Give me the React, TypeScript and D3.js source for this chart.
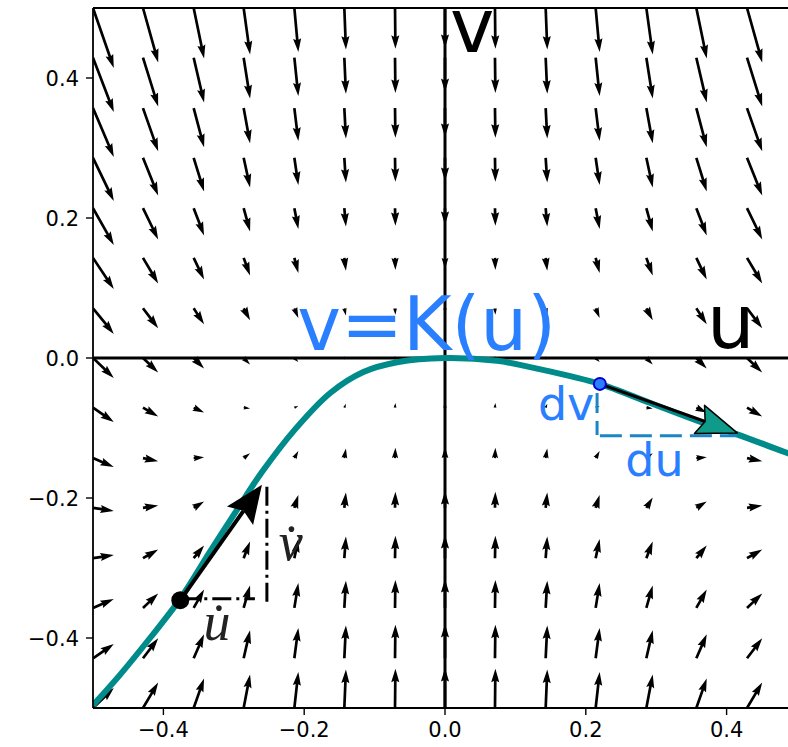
import React from 'react';
import * as d3 from 'd3';

// grid of the vector field (u across, v down from the top)
const gridU = [-0.5, -0.429, -0.357, -0.286, -0.214, -0.143, -0.071, 0, 0.071, 0.143, 0.214, 0.286, 0.357, 0.429, 0.5];
const gridV = [0.5, 0.429, 0.357, 0.286, 0.214, 0.143, 0.071, 0, -0.071, -0.143, -0.214, -0.286, -0.357, -0.429, -0.5];

// horizontal component, one per column
const fieldU = [0.26, 0.19, 0.13, 0.08, 0.05, 0.02, 0.005, 0, 0.005, 0.02, 0.05, 0.08, 0.13, 0.19, 0.26];

// vertical component, one row per gridV value
const fieldV = [
  [-0.75, -0.68, -0.63, -0.58, -0.55, -0.52, -0.51, -0.5, -0.51, -0.52, -0.55, -0.58, -0.63, -0.68, -0.75],
  [-0.68, -0.61, -0.56, -0.51, -0.48, -0.45, -0.44, -0.43, -0.44, -0.45, -0.48, -0.51, -0.56, -0.61, -0.68],
  [-0.61, -0.54, -0.49, -0.44, -0.41, -0.38, -0.37, -0.36, -0.37, -0.38, -0.41, -0.44, -0.49, -0.54, -0.61],
  [-0.54, -0.47, -0.42, -0.37, -0.34, -0.31, -0.3, -0.29, -0.3, -0.31, -0.34, -0.37, -0.42, -0.47, -0.54],
  [-0.46, -0.39, -0.34, -0.29, -0.26, -0.23, -0.22, -0.21, -0.22, -0.23, -0.26, -0.29, -0.34, -0.39, -0.46],
  [-0.39, -0.32, -0.27, -0.22, -0.19, -0.16, -0.15, -0.14, -0.15, -0.16, -0.19, -0.22, -0.27, -0.32, -0.39],
  [-0.32, -0.25, -0.2, -0.15, -0.12, -0.09, -0.08, -0.07, -0.08, -0.09, -0.12, -0.15, -0.2, -0.25, -0.32],
  [-0.25, -0.18, -0.13, -0.08, -0.05, -0.02, -0.01, 0, -0.01, -0.02, -0.05, -0.08, -0.13, -0.18, -0.25],
  [-0.18, -0.11, -0.06, -0.01, 0.02, 0.05, 0.06, 0.07, 0.06, 0.05, 0.02, -0.01, -0.06, -0.11, -0.18],
  [-0.11, -0.04, 0.01, 0.06, 0.09, 0.12, 0.13, 0.14, 0.13, 0.12, 0.09, 0.06, 0.01, -0.04, -0.11],
  [-0.04, 0.03, 0.08, 0.13, 0.16, 0.19, 0.2, 0.21, 0.2, 0.19, 0.16, 0.13, 0.08, 0.03, -0.04],
  [0.04, 0.11, 0.16, 0.21, 0.24, 0.27, 0.28, 0.29, 0.28, 0.27, 0.24, 0.21, 0.16, 0.11, 0.04],
  [0.11, 0.18, 0.23, 0.28, 0.31, 0.34, 0.35, 0.36, 0.35, 0.34, 0.31, 0.28, 0.23, 0.18, 0.11],
  [0.18, 0.25, 0.3, 0.35, 0.38, 0.41, 0.42, 0.43, 0.42, 0.41, 0.38, 0.35, 0.3, 0.25, 0.18],
  [0.25, 0.32, 0.37, 0.42, 0.45, 0.48, 0.49, 0.5, 0.49, 0.48, 0.45, 0.42, 0.37, 0.32, 0.25],
];

// the curve v = K(u)
const curveU = [-0.5, -0.462, -0.419, -0.376, -0.334, -0.291, -0.26, -0.213, -0.163, -0.116, -0.068, 0, 0.074, 0.121, 0.178, 0.22, 0.291, 0.362, 0.415, 0.487, 0.5];
const curveV = [-0.496, -0.453, -0.4, -0.344, -0.277, -0.21, -0.163, -0.102, -0.05, -0.02, -0.006, 0, -0.004, -0.013, -0.026, -0.037, -0.064, -0.091, -0.109, -0.136, -0.14];

const xTicks = [-0.4, -0.2, 0, 0.2, 0.4];
const xTickLabels = ['\u22120.4', '\u22120.2', '0.0', '0.2', '0.4'];
const yTicks = [-0.4, -0.2, 0, 0.2, 0.4];
const yTickLabels = ['\u22120.4', '\u22120.2', '0.0', '0.2', '0.4'];

// annotation points (data coords)
const blackStart = [-0.376, -0.346];
const blackTip = [-0.26, -0.181];
const blueStart = [0.22, -0.037];
const tealTip = [0.415, -0.107];
const vDotLine = [[-0.253, -0.184], [-0.253, -0.35]];
const uDotLine = [[-0.376, -0.344], [-0.27, -0.344]];
const dvLine = [[0.216, -0.05], [0.216, -0.11]];
const duLine = [[0.22, -0.111], [0.415, -0.111]];

const WIDTH = 788;
const HEIGHT = 747;
const QW = 2.7; // quiver shaft width, px
const QSCALE = 80; // px per field unit

const x = d3.scaleLinear().domain([-0.5, 0.5]).range([93, 797]);
const y = d3.scaleLinear().domain([-0.5, 0.5]).range([708, 8]);

function quiverPath(tx: number, ty: number, dx: number, dy: number) {
  const L = Math.hypot(dx, dy) / QW;
  let pts: number[][];
  if (L < 1) {
    pts = d3.range(6).map(i => [0.5 * Math.cos(i * Math.PI / 3), 0.5 * Math.sin(i * Math.PI / 3)]);
  } else if (L < 5) {
    const s = L / 5;
    pts = [[0, 0.5], [0.5, 0.5], [0, 1.5], [5, 0], [0, -1.5], [0.5, -0.5], [0, -0.5]].map(([a, b]) => [a * s, b * s]);
  } else {
    pts = [[0, 0.5], [L - 4.5, 0.5], [L - 5, 1.5], [L, 0], [L - 5, -1.5], [L - 4.5, -0.5], [0, -0.5]];
  }
  const ang = Math.atan2(dy, dx);
  const c = Math.cos(ang), s = Math.sin(ang);
  return 'M' + pts
    .map(([px, py]) => [tx + QW * (px * c - py * s), ty + QW * (px * s + py * c)])
    .map(p => p[0].toFixed(2) + ',' + p[1].toFixed(2))
    .join('L') + 'Z';
}

function bigArrow(p0: number[], p1: number[], headLen: number, headW: number, notch: number) {
  const x0 = x(p0[0]), y0 = y(p0[1]), x1 = x(p1[0]), y1 = y(p1[1]);
  const len = Math.hypot(x1 - x0, y1 - y0);
  const ux = (x1 - x0) / len, uy = (y1 - y0) / len;
  const nx = -uy, ny = ux;
  const bx = x1 - headLen * ux, by = y1 - headLen * uy;
  const kx = x1 - (headLen - notch) * ux, ky = y1 - (headLen - notch) * uy;
  const head = `M${x1},${y1}L${bx + nx * headW / 2},${by + ny * headW / 2}L${kx},${ky}L${bx - nx * headW / 2},${by - ny * headW / 2}Z`;
  return { x0, y0, kx, ky, head };
}

export default function App() {
  const arrows: string[] = [];
  gridV.forEach((v, i) => {
    gridU.forEach((u, k) => {
      arrows.push(quiverPath(x(u), y(v), fieldU[k] * QSCALE, -fieldV[i][k] * QSCALE));
    });
  });

  const line = d3.line<number>()
    .x((_, i) => x(curveU[i]))
    .y(d => y(d))
    .curve(d3.curveCatmullRom.alpha(0.5));

  const black = bigArrow(blackStart, blackTip, 38, 32, 6);
  const teal = bigArrow(blueStart, tealTip, 40, 30, 6);

  const seg = (p: number[][]) => ({ x1: x(p[0][0]), y1: y(p[0][1]), x2: x(p[1][0]), y2: y(p[1][1]) });

  return (
    <svg width={WIDTH} height={HEIGHT} style={{ position: 'absolute', left: 0, top: 0, background: '#fff' }}
      fontFamily="DejaVu Sans">
      <defs>
        <clipPath id="plot">
          <rect x={x(-0.5)} y={y(0.5)} width={x(0.5) - x(-0.5)} height={y(-0.5) - y(0.5)} />
        </clipPath>
      </defs>

      <g clipPath="url(#plot)">
        <g fill="#000">
          {arrows.map((d, i) => <path key={i} d={d} />)}
        </g>
        <line x1={x(0)} x2={x(0)} y1={y(-0.5)} y2={y(0.5)} stroke="#000" strokeWidth={3} />
        <line x1={x(-0.5)} x2={x(0.5)} y1={y(0)} y2={y(0)} stroke="#000" strokeWidth={3} />
        <path d={line(curveV) || ''} fill="none" stroke="#008b8b" strokeWidth={6} />
      </g>

      {/* black tangent arrow with u-dot / v-dot legs */}
      <line {...seg(uDotLine)} stroke="#000" strokeWidth={3} strokeDasharray="19,5,3,5" />
      <line {...seg(vDotLine)} stroke="#000" strokeWidth={3} strokeDasharray="19,5,3,5" />
      <line x1={black.x0} y1={black.y0} x2={black.kx} y2={black.ky} stroke="#000" strokeWidth={4} />
      <path d={black.head} fill="#000" />
      <circle cx={x(blackStart[0])} cy={y(blackStart[1])} r={9} fill="#000" />

      {/* teal arrow with du / dv legs */}
      <line {...seg(dvLine)} stroke="#1a86c6" strokeWidth={3} strokeDasharray="20,8" />
      <line {...seg(duLine)} stroke="#1a86c6" strokeWidth={3} strokeDasharray="22,8" />
      <line x1={teal.x0} y1={teal.y0} x2={teal.kx} y2={teal.ky} stroke="#000" strokeWidth={3} />
      <path d={teal.head} fill="#0f9a8a" stroke="#000" strokeWidth={1.5} strokeLinejoin="round" />
      <circle cx={x(blueStart[0])} cy={y(blueStart[1])} r={6} fill="#2a7fff" stroke="#0000d0" strokeWidth={2} />

      {/* labels */}
      <text x={x(0.007)} y={y(0.437)} fontSize={75} fill="#000">v</text>
      <text x={x(0.372)} y={y(0.014)} fontSize={75} fill="#000">u</text>
      <text x={x(-0.21)} y={y(0.011)} fontSize={74} fill="#2a7fff">v=K(u)</text>
      <text x={x(0.132)} y={y(-0.089)} fontSize={46} fill="#2a7fff">dv</text>
      <text x={x(0.256)} y={y(-0.169)} fontSize={46} fill="#2a7fff">du</text>
      <text x={x(-0.343)} y={y(-0.403)} fontSize={54} fill="#222" fontStyle="italic" fontFamily="Liberation Serif">{'u\u0307'}</text>
      <text x={x(-0.236)} y={y(-0.289)} fontSize={54} fill="#222" fontStyle="italic" fontFamily="Liberation Serif">{'v\u0307'}</text>

      {/* spines */}
      <g stroke="#000" strokeWidth={1.8} fill="none">
        <line x1={x(-0.5)} x2={x(-0.5)} y1={y(-0.5)} y2={y(0.5)} />
        <line x1={x(-0.5)} x2={x(0.5)} y1={y(0.5)} y2={y(0.5)} />
        <line x1={x(-0.5)} x2={x(0.5)} y1={y(-0.5)} y2={y(-0.5)} />
        <line x1={x(0.5)} x2={x(0.5)} y1={y(-0.5)} y2={y(0.5)} />
      </g>

      {/* ticks */}
      {xTicks.map((t, i) => (
        <g key={'x' + i} transform={`translate(${x(t)},${y(-0.5)})`}>
          <line y2={7} stroke="#000" strokeWidth={1.4} />
          <text y={29} textAnchor="middle" fontSize={21} fill="#000">{xTickLabels[i]}</text>
        </g>
      ))}
      {yTicks.map((t, i) => (
        <g key={'y' + i} transform={`translate(${x(-0.5)},${y(t)})`}>
          <line x2={-7} stroke="#000" strokeWidth={1.4} />
          <text x={-14} dy="0.36em" textAnchor="end" fontSize={21} fill="#000">{yTickLabels[i]}</text>
        </g>
      ))}
    </svg>
  );
}
